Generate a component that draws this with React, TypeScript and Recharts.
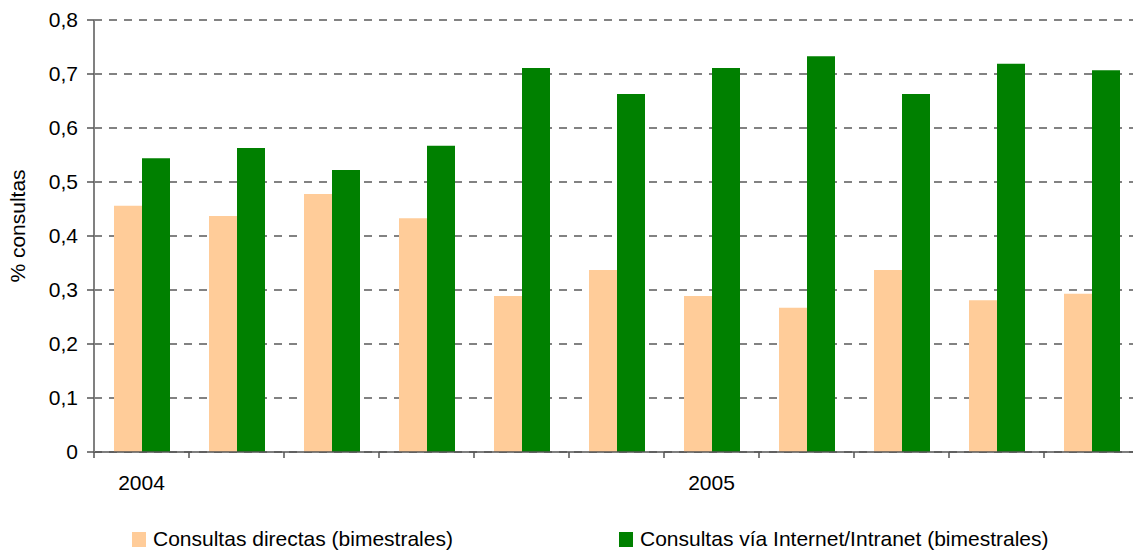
import { BarChart, Bar, XAxis, YAxis, CartesianGrid } from "recharts";

// bimestres: 6 de 2004 + 5 de 2005
const PERIODS = ["b1", "b2", "b3", "b4", "b5", "b6", "b7", "b8", "b9", "b10", "b11"];
const PERIOD_LABELS = ["2004", "", "", "", "", "", "2005", "", "", "", ""];
const DIRECTAS = [0.456, 0.437, 0.478, 0.433, 0.289, 0.337, 0.289, 0.267, 0.337, 0.281, 0.293];
const INTERNET = [0.544, 0.563, 0.522, 0.567, 0.711, 0.663, 0.711, 0.733, 0.663, 0.719, 0.707];
const Y_TICKS = [0, 0.1, 0.2, 0.3, 0.4, 0.5, 0.6, 0.7, 0.8];

const SERIES = [
  { key: "directas", name: "Consultas directas (bimestrales)", color: "#FFCC99" },
  { key: "internet", name: "Consultas vía Internet/Intranet (bimestrales)", color: "#008000" },
];

const data = PERIODS.map((p, i) => ({
  period: p,
  directas: DIRECTAS[i],
  internet: INTERNET[i],
}));

const FONT = "'Liberation Sans', Arial, sans-serif";
const FS = 21;
const CHART_W = 1139;
const CHART_H = 550;
const Y_AXIS_W = 94;
const PLOT_W = CHART_W - Y_AXIS_W;

const fmt = (v: number) => (v === 0 ? "0" : v.toFixed(1).replace(".", ","));

const XTick = (props: any) => {
  const { x, y, payload, index } = props;
  const band = PLOT_W / PERIODS.length;
  const i = index ?? PERIODS.indexOf(payload.value);
  return (
    <g>
      <line x1={x - band / 2} x2={x - band / 2} y1={y} y2={y + 6} stroke="#555" strokeWidth={1.5} />
      <text x={x} y={y + 38} textAnchor="middle" fontSize={FS} fill="#000" fontFamily={FONT}>
        {PERIOD_LABELS[i]}
      </text>
    </g>
  );
};

const YLabel = () => (
  <text
    x={25}
    y={226}
    transform="rotate(-90 25 226)"
    textAnchor="middle"
    fontSize={FS}
    fill="#000"
    fontFamily={FONT}
  >
    % consultas
  </text>
);

const LEGEND_X = [132, 619];

export default function App() {
  return (
    <div style={{ position: "absolute", left: 0, top: 0, width: 1133, height: 550, overflow: "hidden", background: "#fff" }}>
      <BarChart
        width={CHART_W}
        height={CHART_H}
        data={data}
        margin={{ top: 20, right: 0, left: 0, bottom: 58 }}
        barGap={0}
        barSize={28}
        style={{ fontFamily: FONT }}
      >
        <CartesianGrid vertical={false} stroke="#5a5a5a" strokeDasharray="8 7" strokeWidth={1.4} />
        <XAxis
          dataKey="period"
          interval={0}
          height={40}
          tickSize={0}
          tickMargin={0}
          tickLine={false}
          axisLine={{ stroke: "#555", strokeWidth: 1.5 }}
          tick={<XTick />}
        />
        <YAxis
          width={Y_AXIS_W}
          domain={[0, 0.8]}
          ticks={Y_TICKS}
          tickFormatter={fmt}
          tickSize={7}
          tickMargin={9}
          tickLine={{ stroke: "#555", strokeWidth: 1.5 }}
          axisLine={{ stroke: "#808080", strokeWidth: 2 }}
          tick={{ fontSize: FS, fill: "#000", fontFamily: FONT }}
          label={<YLabel />}
        />
        {SERIES.map((s) => (
          <Bar key={s.key} dataKey={s.key} name={s.name} fill={s.color} isAnimationActive={false} />
        ))}
      </BarChart>
      {SERIES.map((s, i) => (
        <div
          key={s.key}
          style={{
            position: "absolute",
            left: LEGEND_X[i],
            top: 527,
            display: "flex",
            alignItems: "center",
            fontFamily: FONT,
            fontSize: FS,
            color: "#000",
            whiteSpace: "nowrap",
          }}
        >
          <span style={{ display: "inline-block", width: 14, height: 15, background: s.color, marginRight: 7 }} />
          {s.name}
        </div>
      ))}
    </div>
  );
}
